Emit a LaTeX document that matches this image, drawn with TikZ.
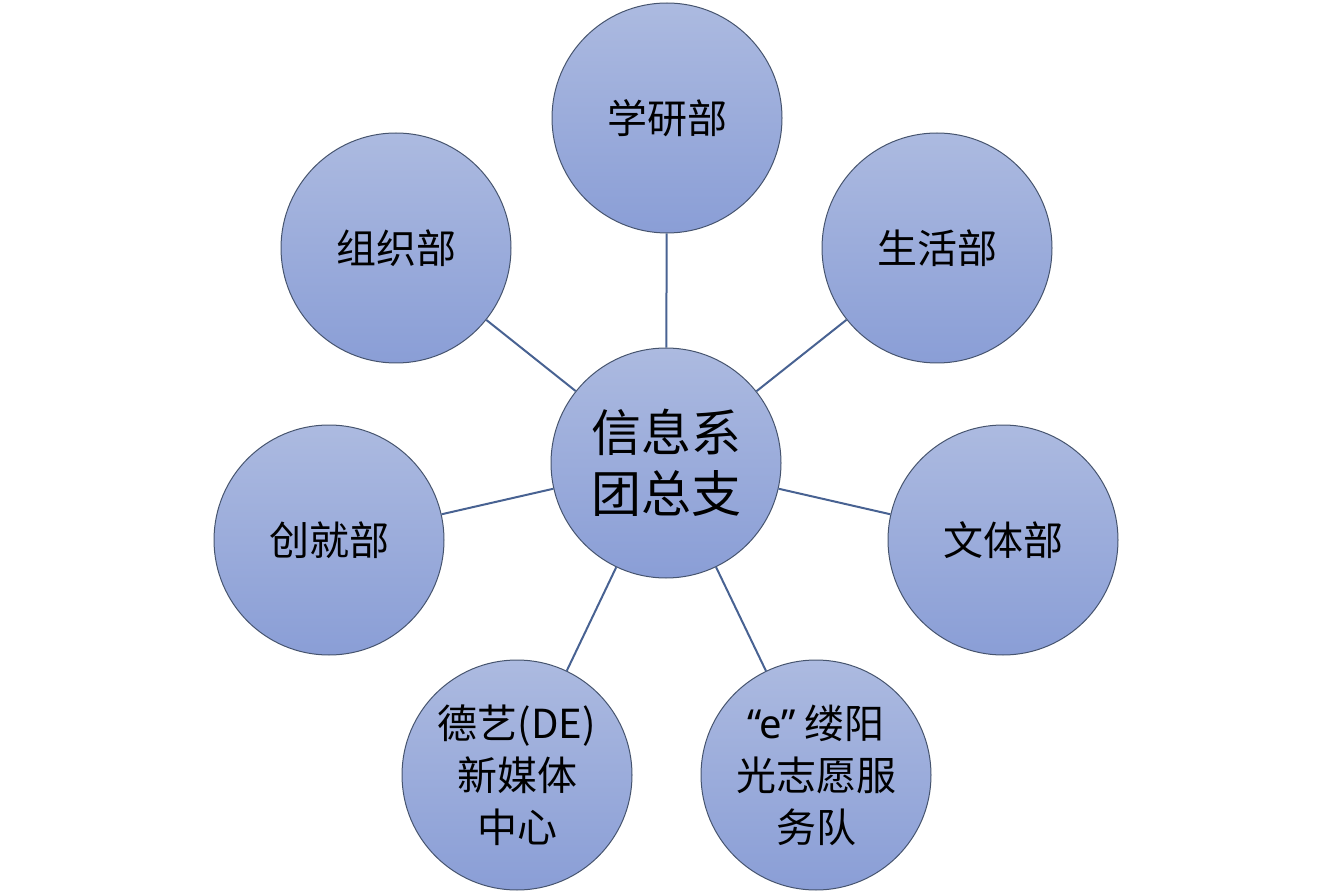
\documentclass[tikz,border=0pt]{standalone}
\usepackage{fontspec}
\setmainfont{Noto Sans CJK SC}
\newfontfamily\latin{Noto Sans}
\usetikzlibrary{positioning}

\definecolor{ballTop}{RGB}{172,186,224}
\definecolor{ballBot}{RGB}{138,158,214}
\definecolor{ballLine}{RGB}{70,84,110}
\definecolor{linkCol}{RGB}{72,98,146}

\begin{document}
\begin{tikzpicture}[x=0.5pt,y=-0.5pt]
	\tikzstyle{every node}+=[inner sep=0pt]
	\tikzstyle{dept}=[circle,minimum size=115pt,draw=ballLine,line width=0.5pt,
		top color=ballTop,bottom color=ballBot,align=center,font=\fontsize{20}{26}\selectfont]
	\tikzstyle{link}=[draw=linkCol,line width=1pt]
	\useasboundingbox (0,0) rectangle (1334,893);
	% centre
	\node[dept,font=\fontsize{25}{30.5}\selectfont] (zong) at (666,463) {信息系\\团总支};
	% departments
	\node[dept] (xueyan) at (667,118) {学研部};
	\node[dept] (shenghuo) at (937,248) {生活部};
	\node[dept] (zuzhi) at (396,248) {组织部};
	\node[dept] (chuangjiu) at (329,540) {创就部};
	\node[dept] (wenti) at (1003,540) {文体部};
	\node[dept] (deyi) at (517,775) {德艺(DE)\\新媒体\\中心};
	\node[dept] (zhiyuan) at (816,775) {{\latin “e”} 缕阳\\光志愿服\\务队};
	\foreach \d in {xueyan,shenghuo,zuzhi,chuangjiu,wenti,deyi,zhiyuan}
		\draw[link] (zong) -- (\d);
\end{tikzpicture}
\end{document}
